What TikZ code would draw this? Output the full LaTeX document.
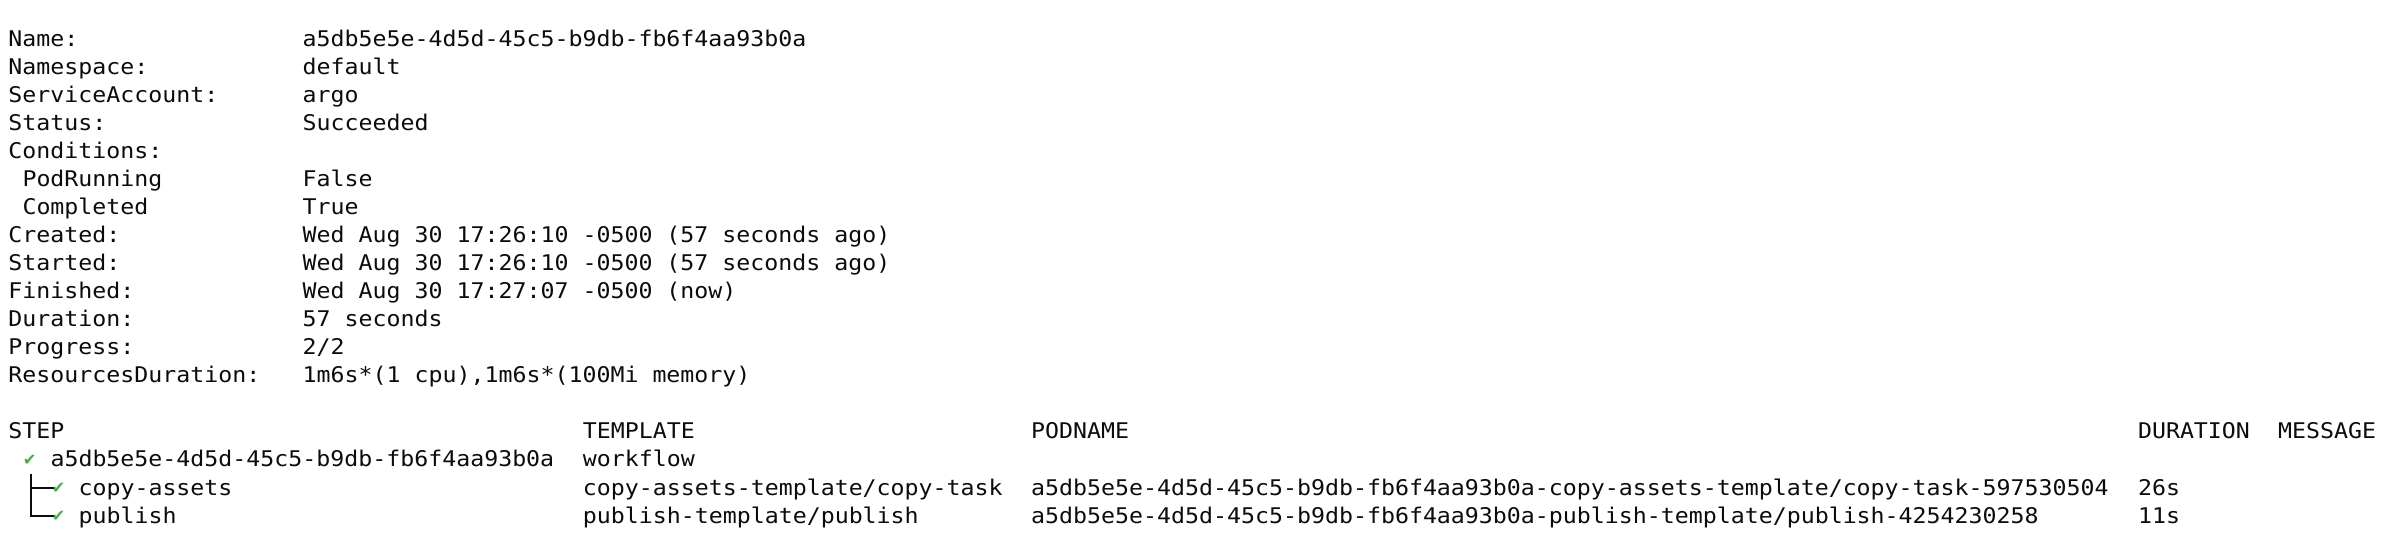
\documentclass[tikz,border=0pt]{standalone}
\usepackage{fontspec}
\setmonofont[FakeStretch=1.076]{DejaVu Sans Mono}
\newfontfamily\chkfamily{DejaVu Sans}
\definecolor{okgreen}{RGB}{68,176,72}
\definecolor{termtext}{RGB}{12,12,12}
\newcommand\monotext{\ttfamily\fontsize{10.8pt}{13pt}\selectfont}
\newcommand\chktext{\chkfamily\fontsize{8.2pt}{8pt}\selectfont}
\tikzset{
  txt/.style={anchor=base west, inner sep=0pt, outer sep=0pt, text=termtext, font=\monotext},
  chk/.style={anchor=base west, inner sep=0pt, outer sep=0pt, text=okgreen, font=\chktext},
  tree/.style={draw=termtext, line width=0.85pt, line cap=butt}
}
\begin{document}
\begin{tikzpicture}[x=0.5pt, y=-0.5pt]
\useasboundingbox[fill=white] (0,0) rectangle (2398,536);
% ---------- header block ----------
\node[txt] (l0)  at (8.5,46.2)   {Name:};
\node[txt] (v0)  at (302.71,46.2) {a5db5e5e-4d5d-45c5-b9db-fb6f4aa93b0a};
\node[txt] (l1)  at (8.5,74.25)  {Namespace:};
\node[txt] (v1)  at (302.71,74.25) {default};
\node[txt] (l2)  at (8.5,102.3)  {ServiceAccount:};
\node[txt] (v2)  at (302.71,102.3) {argo};
\node[txt] (l3)  at (8.5,130.35) {Status:};
\node[txt] (v3)  at (302.71,130.35) {Succeeded};
\node[txt] (l4)  at (8.5,158.4)  {Conditions:};
\node[txt] (l5)  at (22.51,186.45) {PodRunning};
\node[txt] (v5)  at (302.71,186.45) {False};
\node[txt] (l6)  at (22.51,214.5) {Completed};
\node[txt] (v6)  at (302.71,214.5) {True};
\node[txt] (l7)  at (8.5,242.55) {Created:};
\node[txt] (v7)  at (302.71,242.55) {Wed Aug 30 17:26:10 -0500 (57 seconds ago)};
\node[txt] (l8)  at (8.5,270.6)  {Started:};
\node[txt] (v8)  at (302.71,270.6) {Wed Aug 30 17:26:10 -0500 (57 seconds ago)};
\node[txt] (l9)  at (8.5,298.65) {Finished:};
\node[txt] (v9)  at (302.71,298.65) {Wed Aug 30 17:27:07 -0500 (now)};
\node[txt] (l10) at (8.5,326.7)  {Duration:};
\node[txt] (v10) at (302.71,326.7) {57 seconds};
\node[txt] (l11) at (8.5,354.75) {Progress:};
\node[txt] (v11) at (302.71,354.75) {2/2};
\node[txt] (l12) at (8.5,382.8)  {ResourcesDuration:};
\node[txt] (v12) at (302.71,382.8) {1m6s*(1 cpu),1m6s*(100Mi memory)};
% ---------- table header ----------
\node[txt] (hstep) at (8.5,438.9)    {STEP};
\node[txt] (htmpl) at (582.91,438.9) {TEMPLATE};
\node[txt] (hpod)  at (1031.23,438.9) {PODNAME};
\node[txt] (hdur)  at (2138.0,438.9) {DURATION};
\node[txt] (hmsg)  at (2278.1,438.9) {MESSAGE};
% ---------- row: workflow ----------
\node[chk] (c0)  at (23.0,465.3)    {✔};
\node[txt] (s0)  at (50.53,466.95)  {a5db5e5e-4d5d-45c5-b9db-fb6f4aa93b0a};
\node[txt] (t0)  at (582.91,466.95) {workflow};
% ---------- row: copy-assets ----------
\node[chk] (c1)  at (51.6,493.3)    {✔};
\node[txt] (s1)  at (78.55,495.0)   {copy-assets};
\node[txt] (t1)  at (582.91,495.0)  {copy-assets-template/copy-task};
\node[txt] (p1)  at (1031.23,495.0) {a5db5e5e-4d5d-45c5-b9db-fb6f4aa93b0a-copy-assets-template/copy-task-597530504};
\node[txt] (d1)  at (2138.0,495.0)  {26s};
% ---------- row: publish ----------
\node[chk] (c2)  at (51.6,521.35)   {✔};
\node[txt] (s2)  at (78.55,523.05)  {publish};
\node[txt] (t2)  at (582.91,523.05) {publish-template/publish};
\node[txt] (p2)  at (1031.23,523.05) {a5db5e5e-4d5d-45c5-b9db-fb6f4aa93b0a-publish-template/publish-4254230258};
\node[txt] (d2)  at (2138.0,523.05) {11s};
% ---------- tree lines ----------
\coordinate (ttop) at (31.2,473.5);
\coordinate (tb1)  at (31.2,488.0);
\coordinate (tb1e) at (53.5,488.0);
\coordinate (tb2)  at (31.2,516.0);
\coordinate (tb2e) at (53.5,516.0);
\draw[tree] (ttop) -- (tb2) -- (tb2e);
\draw[tree] (tb1) -- (tb1e);
\end{tikzpicture}
\end{document}
